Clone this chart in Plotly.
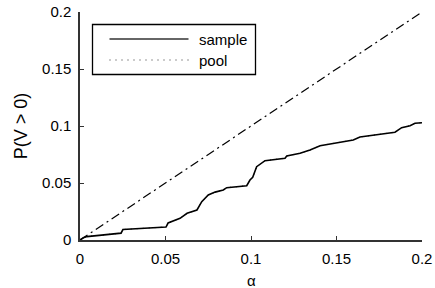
import plotly.graph_objects as go

# Data
alpha = [0.0, 0.002, 0.004, 0.0222, 0.024, 0.0251, 0.0503, 0.0515, 0.0585, 0.0626,
         0.0684, 0.0712, 0.075, 0.079, 0.0838, 0.0858, 0.0975, 0.0994, 0.101, 0.1033,
         0.1082, 0.1199, 0.1209, 0.1287, 0.1345, 0.1404, 0.1481, 0.1598, 0.1637,
         0.1842, 0.1881, 0.193, 0.1959, 0.2]
sample = [0.0, 0.002, 0.003, 0.0053, 0.006, 0.0092, 0.0114, 0.0149, 0.019, 0.0234,
          0.0263, 0.0336, 0.0395, 0.042, 0.0439, 0.0459, 0.0476, 0.0526, 0.055, 0.0643,
          0.0696, 0.0717, 0.0737, 0.0761, 0.0789, 0.0827, 0.0848, 0.0877, 0.0904,
          0.0945, 0.0985, 0.1003, 0.1024, 0.1029]
pool = sample  # hidden beneath the sample curve
diag_x = [0.0, 0.2]
diag_y = [0.0, 0.2]
tick_vals = [0, 0.05, 0.1, 0.15, 0.2]
tick_text = ["0", "0.05", "0.1", "0.15", "0.2"]

W, H = 435, 288
L, R, T, B = 80, 13, 12, 48
pw, ph = W - L - R, H - T - B

def px(x):
    return (x - L) / pw

def py(y):
    return (H - B - y) / ph

FONT = "Liberation Sans, Arial, sans-serif"
FS = 15

fig = go.Figure()
fig.add_trace(go.Scatter(x=diag_x, y=diag_y, mode="lines",
                         line=dict(color="black", width=1.2, dash="9px,4px,2px,4px"),
                         showlegend=False, hoverinfo="skip"))
fig.add_trace(go.Scatter(x=alpha, y=pool, mode="lines", name="pool",
                         line=dict(color="black", width=1, dash="1px,5px"), showlegend=False))
fig.add_trace(go.Scatter(x=alpha, y=sample, mode="lines", name="sample",
                         line=dict(color="black", width=1.6), showlegend=False))

shapes = [
    dict(type="rect", xref="paper", yref="paper", x0=px(92.5), x1=px(255.5),
         y0=py(74.5), y1=py(24.5), line=dict(color="black", width=1.3),
         fillcolor="white", layer="above"),
    dict(type="line", xref="paper", yref="paper", x0=px(109.5), x1=px(188.5),
         y0=py(39), y1=py(39), line=dict(color="#333", width=1.6), layer="above"),
    dict(type="line", xref="paper", yref="paper", x0=px(109.5), x1=px(188.5),
         y0=py(60), y1=py(60), line=dict(color="#333", width=1.2, dash="1px,5px"), layer="above"),
]
annotations = [
    dict(xref="paper", yref="paper", x=px(197), y=py(39), text="sample", showarrow=False,
         xanchor="left", yanchor="middle", font=dict(family=FONT, size=FS, color="black")),
    dict(xref="paper", yref="paper", x=px(197), y=py(60), text="pool", showarrow=False,
         xanchor="left", yanchor="middle", font=dict(family=FONT, size=FS, color="black")),
    dict(xref="paper", yref="paper", x=0.5, y=py(280), text="α", showarrow=False,
         xanchor="center", yanchor="middle", font=dict(family=FONT, size=FS, color="black")),
]

fig.update_layout(
    width=W, height=H,
    margin=dict(l=L, r=R, t=T, b=B, autoexpand=False),
    paper_bgcolor="white", plot_bgcolor="white",
    font=dict(family=FONT, size=FS, color="black"),
    shapes=shapes, annotations=annotations,
    showlegend=False,
)
fig.update_xaxes(range=[0, 0.2], tickvals=tick_vals, ticktext=tick_text,
                 showgrid=False, zeroline=False, showline=True, linecolor="#333",
                 linewidth=1.5, ticks="inside", ticklen=4, tickcolor="#333",
                 automargin=False, ticklabelstandoff=4, fixedrange=True)
fig.update_yaxes(range=[0, 0.2], tickvals=tick_vals, ticktext=tick_text,
                 showgrid=False, zeroline=False, showline=True, linecolor="#333",
                 linewidth=1.5, ticks="inside", ticklen=4, tickcolor="#333",
                 automargin=False, ticklabelstandoff=4,
                 title=dict(text="P(V > 0)", standoff=10), fixedrange=True)

fig.write_html("out.html", config={"displayModeBar": False},
               post_script="document.body.style.margin='0';document.body.style.overflow='hidden';")
